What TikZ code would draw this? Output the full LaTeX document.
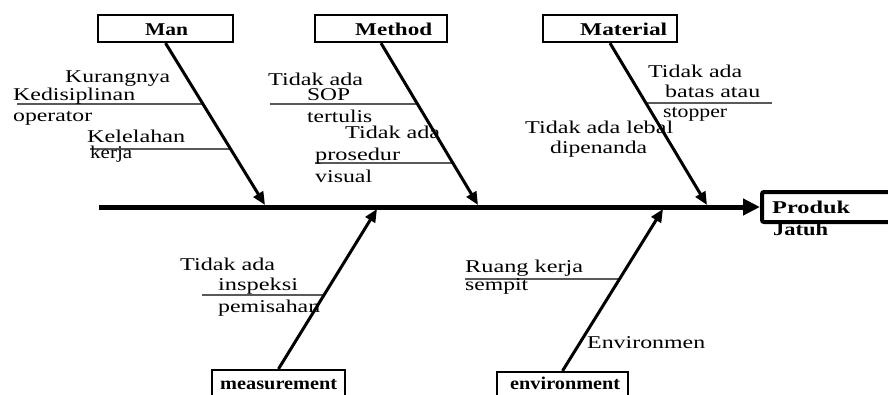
\documentclass[tikz,border=0pt]{standalone}
\usepackage{fontspec}
\usepackage{graphicx}
\setmainfont{Liberation Serif}
\usetikzlibrary{arrows.meta}
\newcommand{\fitw}[2]{\resizebox{#1pt}{\height}{#2}}
\tikzset{
  lbl/.style={inner sep=0pt, anchor=base west, font=\fontsize{18}{20}\selectfont},
  hd/.style={inner sep=0pt, anchor=base west, font=\bfseries\fontsize{18}{20}\selectfont},
  catbox/.style={draw, line width=2.2pt, minimum height=27pt, inner sep=0pt},
  bone/.style={line width=3pt, -{Triangle[length=13pt,width=11pt]}},
  spine/.style={line width=5pt, -{Triangle[length=17pt,width=16pt]}},
  sub/.style={line width=1.1pt, draw=black!65},
}
\begin{document}
\begin{tikzpicture}[x=1pt,y=-1pt]
\clip (0,0) rectangle (888,394);
\fill[white] (0,0) rectangle (888,394);

% category boxes
\node[catbox, minimum width=135pt] (man) at (165.5,28.5) {};
\node[catbox, minimum width=132pt] (method) at (381,28.5) {};
\node[catbox, minimum width=134pt] (material) at (610,28.5) {};
\node[catbox, minimum width=133pt, minimum height=40pt] (meas) at (278.5,390) {};
\node[catbox, minimum width=131pt, minimum height=40pt] (env) at (562.5,392) {};
\node[draw, line width=4pt, rounded corners=2pt, minimum width=140pt, minimum height=30pt, inner sep=0pt] (prod) at (832,207) {};

\node[hd] (tman) at (145,35) {\fitw{43}{Man}};
\node[hd] (tmethod) at (355,35) {\fitw{77}{Method}};
\node[hd] (tmaterial) at (580,35) {\fitw{87}{Material}};
\node[hd] (tmeas) at (220,389) {\fitw{117}{measurement}};
\node[hd] (tenv) at (510,389) {\fitw{110}{environment}};
\node[hd] (tprod) at (772,213) {\fitw{78}{Produk}};
\node[hd] (tjatuh) at (773,235) {\fitw{55}{Jatuh}};

% sub-branch lines
\draw[sub] (17,104) -- (203.3,104);
\draw[sub] (90,149) -- (230.8,149);
\draw[sub] (270,104) -- (417.9,104);
\draw[sub] (315,163) -- (453,163);
\draw[sub] (646.3,103) -- (772,103);
\draw[sub] (202,295) -- (324.4,295);
\draw[sub] (465,279) -- (619.8,279);

% texts
\node[lbl] (a1) at (65,82) {\fitw{105}{Kurangnya}};
\node[lbl] (a2) at (13,100) {\fitw{122}{Kedisiplinan}};
\node[lbl] (a3) at (13,121) {\fitw{79}{operator}};
\node[lbl] (a4) at (87,142) {\fitw{98}{Kelelahan}};
\node[lbl] (a5) at (90,158) {\fitw{42}{kerja}};

\node[lbl] (b1) at (268,85) {\fitw{95}{Tidak ada}};
\node[lbl] (b2) at (307,100) {\fitw{43}{SOP}};
\node[lbl] (b3) at (307,122) {\fitw{65}{tertulis}};
\node[lbl] (b4) at (345,138) {\fitw{95}{Tidak ada}};
\node[lbl] (b5) at (315,160) {\fitw{85}{prosedur}};
\node[lbl] (b6) at (315,182) {\fitw{57}{visual}};

\node[lbl] (c1) at (648,77) {\fitw{94}{Tidak ada}};
\node[lbl] (c2) at (665,97) {\fitw{95}{batas atau}};
\node[lbl] (c3) at (663,117) {\fitw{64}{stopper}};
\node[lbl] (c4) at (525,133) {\fitw{148}{Tidak ada lebal}};
\node[lbl] (c5) at (550,153) {\fitw{97}{dipenanda}};

\node[lbl] (d1) at (180,270) {\fitw{95}{Tidak ada}};
\node[lbl] (d2) at (218,290) {\fitw{80}{inspeksi}};
\node[lbl] (d3) at (218,312) {\fitw{102}{pemisahan}};

\node[lbl] (e1) at (465,272) {\fitw{118}{Ruang kerja}};
\node[lbl] (e2) at (465,290) {\fitw{63}{sempit}};
\node[lbl] (e3) at (587,348) {\fitw{118}{Environmen}};

% spine and bones
\coordinate (spineL) at (99,207);
\coordinate (manT) at (265,205);
\coordinate (methodT) at (478,205);
\coordinate (materialT) at (707,205);
\coordinate (measT) at (377,209);
\coordinate (envT) at (663,209);

\draw[spine] (spineL) -- (prod.west);
\draw[bone] (man.south) -- (manT);
\draw[bone] (method.south) -- (methodT);
\draw[bone] (material.south) -- (materialT);
\draw[bone] (meas.north) -- (measT);
\draw[bone] (env.north) -- (envT);
\end{tikzpicture}
\end{document}
